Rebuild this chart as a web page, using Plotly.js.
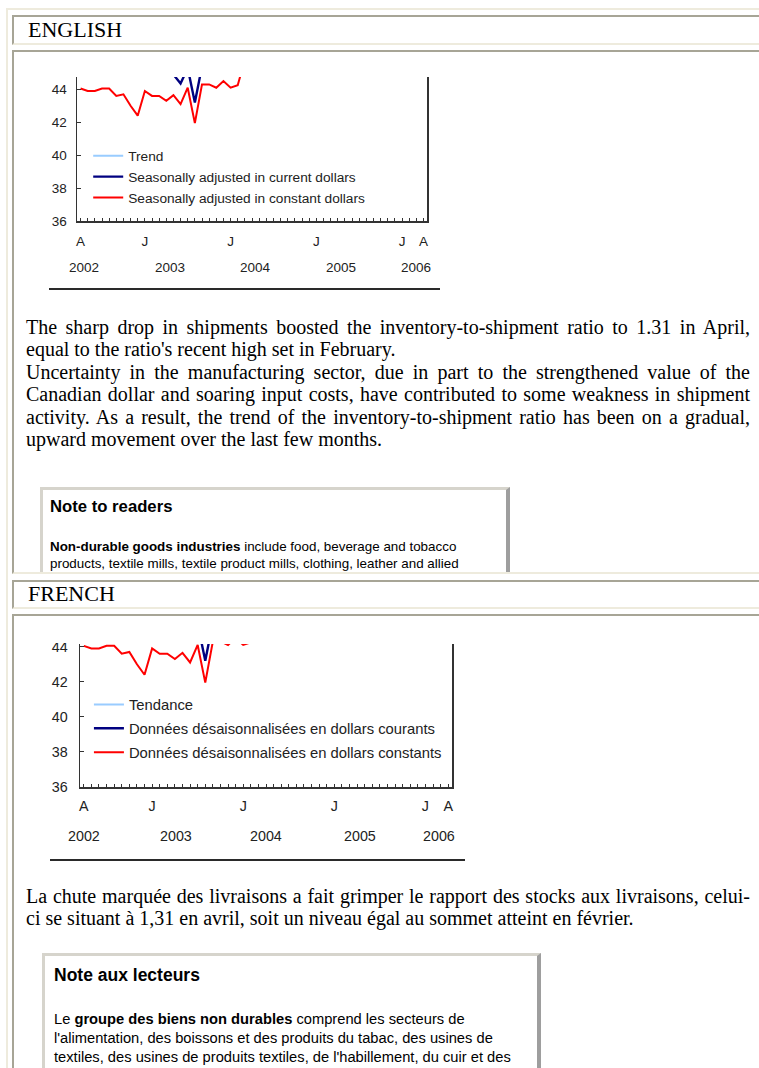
<!DOCTYPE html>
<html>
<head>
<meta charset="utf-8">
<script src="https://cdn.plot.ly/plotly-3.0.1.min.js"></script>
<style>
  html, body { margin:0; padding:0; }
  body { width:759px; height:1068px; overflow:hidden; background:#fff; position:relative;
         font-family:"Liberation Serif","Times New Roman",serif; color:#000; }
  .ov { position:absolute; left:6px; top:8px; width:2px; height:1100px; background:#EEEBDD; }
  .oh { position:absolute; left:6px; top:8px; width:900px; height:2px; background:#EEEBDD; }
  .cell { position:absolute; left:12px; width:900px; overflow:hidden;
          border-top:2px solid #A7A596; border-left:2px solid #A7A596; border-bottom:2px solid #EEEBDD; }
  .hdr { position:absolute; left:14px; font-size:22px; line-height:22px; white-space:nowrap; }
  .abs { position:absolute; }
  .rule { position:absolute; height:2px; background:#2a2a2a; }
  .para { position:absolute; font-size:20px; line-height:22.6px; width:724px; }
  .para div { white-space:nowrap; }
  .para .j { text-align:justify; text-align-last:justify; white-space:normal; }
  .note { position:absolute; background:#fff; box-sizing:border-box; height:300px;
          border-top:3px solid #D6D4CC; border-left:3px solid #D6D4CC;
          border-right:4px solid #9E9E9E; border-bottom:4px solid #9E9E9E;
          font-family:Arial,"Liberation Sans",sans-serif; color:#000; }
  .note div { white-space:nowrap; }
</style>
</head>
<body>
<div class="ov"></div>
<div class="oh"></div>

<!-- ENGLISH header -->
<div class="cell" style="top:15px;height:26px;">
  <div class="hdr" style="top:1.6px;">ENGLISH</div>
</div>

<!-- English content -->
<div class="cell" style="top:50px;height:520px;">
  <div id="chartEn" class="abs" style="left:0;top:15px;"></div>
  <div class="rule" style="left:35px;top:236px;width:391px;"></div>
  <div class="para" style="left:12px;top:263.5px;">
    <div class="j">The sharp drop in shipments boosted the inventory-to-shipment ratio to 1.31 in April,</div>
    <div>equal to the ratio's recent high set in February.</div>
    <div class="j">Uncertainty in the manufacturing sector, due in part to the strengthened value of the</div>
    <div class="j">Canadian dollar and soaring input costs, have contributed to some weakness in shipment</div>
    <div class="j">activity. As a result, the trend of the inventory-to-shipment ratio has been on a gradual,</div>
    <div>upward movement over the last few months.</div>
  </div>
  <div class="note" style="left:26px;top:435px;width:470px;padding-left:7px;">
    <div style="margin-top:7.2px;font-size:16.7px;line-height:20px;font-weight:bold;">Note to readers</div>
    <div style="margin-top:20.5px;font-size:13.4px;line-height:17px;"><b>Non-durable goods industries</b> include food, beverage and tobacco<br>products, textile mills, textile product mills, clothing, leather and allied</div>
  </div>
</div>

<!-- FRENCH header -->
<div class="cell" style="top:580px;height:25px;">
  <div class="hdr" style="top:0.6px;">FRENCH</div>
</div>

<!-- French content -->
<div class="cell" style="top:614px;height:500px;">
  <div class="abs" style="left:0;top:27px;width:520px;height:230px;overflow:hidden;">
    <div id="chartFr" class="abs" style="left:0;top:-19px;"></div>
  </div>
  <div class="rule" style="left:36px;top:243px;width:415px;"></div>
  <div class="para" style="left:12px;top:268.5px;">
    <div class="j">La chute marquée des livraisons a fait grimper le rapport des stocks aux livraisons, celui-</div>
    <div>ci se situant à 1,31 en avril, soit un niveau égal au sommet atteint en février.</div>
  </div>
  <div class="note" style="left:28px;top:337px;width:499px;padding-left:9px;">
    <div style="margin-top:8.7px;font-size:17.5px;line-height:21px;font-weight:bold;">Note aux lecteurs</div>
    <div style="margin-top:24.7px;font-size:14.7px;line-height:19px;">Le <b>groupe des biens non durables</b> comprend les secteurs de<br>l'alimentation, des boissons et des produits du tabac, des usines de<br>textiles, des usines de produits textiles, de l'habillement, du cuir et des</div>
  </div>
</div>

<script>
// ---------- DATA ----------
const months = ['Apr-02','May-02','Jun-02','Jul-02','Aug-02','Sep-02','Oct-02','Nov-02','Dec-02',
  'Jan-03','Feb-03','Mar-03','Apr-03','May-03','Jun-03','Jul-03','Aug-03','Sep-03','Oct-03','Nov-03','Dec-03',
  'Jan-04','Feb-04','Mar-04','Apr-04','May-04','Jun-04','Jul-04','Aug-04','Sep-04','Oct-04','Nov-04','Dec-04',
  'Jan-05','Feb-05','Mar-05','Apr-05','May-05','Jun-05','Jul-05','Aug-05','Sep-05','Oct-05','Nov-05','Dec-05',
  'Jan-06','Feb-06','Mar-06','Apr-06'];

const trend = [45.8,45.8,45.7,45.7,45.6,45.6,45.5,45.5,45.5,45.5,
  45.5,45.5,45.4,45.4,45.4,45.5,45.6,45.7,45.8,46.0,
  46.2,46.4,46.7,46.9,47.1,47.3,47.5,47.7,47.9,48.1,
  48.3,48.4,48.6,48.7,48.9,49.0,49.1,49.2,49.3,49.4,
  49.5,49.5,49.6,49.6,49.6,49.6,49.5,49.4,49.3];

const currentDollars = [45.7,45.6,45.6,45.9,45.9,45.5,45.6,45.1,45.0,45.7,
  45.5,45.6,45.2,44.9,44.35,45.3,43.2,45.4,45.5,45.4,
  45.9,45.6,45.8,47.2,47.0,47.5,47.9,47.6,48.1,48.5,
  48.2,48.6,49.0,48.7,49.1,49.4,49.0,49.5,49.1,49.6,
  49.3,49.7,49.3,49.7,49.4,49.8,49.5,49.2,48.8];

const constantDollars = [44.05,43.9,43.9,44.05,44.05,43.6,43.7,43.0,42.4,43.9,
  43.6,43.6,43.3,43.65,43.1,44.1,41.95,44.3,44.3,44.1,
  44.5,44.1,44.25,45.8,45.5,45.9,46.2,45.9,46.3,46.6,
  46.2,46.5,46.8,46.4,46.7,46.9,46.5,46.8,46.3,46.6,
  46.2,46.5,46.0,46.3,45.9,46.2,45.8,45.5,45.2];

const yTicks = [36, 38, 40, 42, 44];
const tickMonths = ['Apr-02','Jan-03','Jan-04','Jan-05','Jan-06','Apr-06'];
const tickLetters = ['A','J','J','J','J','A'];
const years = ['2002','2003','2004','2005','2006'];

const namesEn = ['Trend','Seasonally adjusted in current dollars','Seasonally adjusted in constant dollars'];
const namesFr = ['Tendance','Données désaisonnalisées en dollars courants','Données désaisonnalisées en dollars constants'];

// ---------- CHART BUILDER ----------
function buildChart(id, names, st) {
  const ticktext = months.map(m => { const k = tickMonths.indexOf(m); return k >= 0 ? tickLetters[k] : ''; });
  const series = [trend, currentDollars, constantDollars];
  const colors = ['#99CCFF', '#000080', '#FF0000'];
  const widths = [2, 2.4, 2];
  const traces = series.map((s, i) => ({
    type: 'scatter', mode: 'lines', x: months, y: s, name: names[i],
    legendgroup: 'g' + i,
    line: { color: colors[i], width: widths[i] }, hoverinfo: 'skip'
  }));
  const ann = years.map((y, i) => ({
    text: y, x: st.yearPos[i], xref: 'x', y: 0, yref: 'paper', yanchor: 'middle',
    yshift: -st.yearDy, showarrow: false, font: { size: st.tick, color: '#222' }
  }));
  const layout = {
    width: st.w, height: st.h,
    margin: { l: st.l, r: st.r, t: st.t, b: st.b },
    paper_bgcolor: 'rgba(0,0,0,0)', plot_bgcolor: 'rgba(0,0,0,0)',
    font: { family: 'Arial, "Liberation Sans", sans-serif', size: st.tick, color: '#222' },
    showlegend: true,
    legend: { x: st.lx, y: st.ly, xanchor: 'left', yanchor: 'top', bgcolor: 'rgba(0,0,0,0)',
              borderwidth: 0, traceorder: 'grouped', tracegroupgap: st.gap,
              font: { size: st.leg, color: '#222' } },
    xaxis: { type: 'category', range: [-0.5, months.length - 0.5], tickmode: 'array',
             tickvals: months, ticktext: ticktext, ticks: 'inside', ticklen: 3, tickwidth: 1,
             tickcolor: '#333', showline: true, linecolor: '#333', linewidth: 1.5,
             showgrid: false, zeroline: false, ticklabelstandoff: st.xsd, fixedrange: true },
    yaxis: { range: [36, st.ymax], tickmode: 'array', tickvals: yTicks, ticks: 'inside', ticklen: 4,
             tickcolor: '#333', showline: true, mirror: true, linecolor: '#333', linewidth: 1.5,
             showgrid: false, zeroline: false, ticklabelstandoff: st.ysd, fixedrange: true },
    annotations: ann
  };
  Plotly.newPlot(id, traces, layout, { staticPlot: true, displayModeBar: false });
}

buildChart('chartEn', namesEn, {
  w: 453, h: 214, l: 63, r: 40, t: 10, b: 60, ymax: 44.75,
  tick: 13.5, leg: 13.7, gap: 0, lx: 0.032, ly: 0.56, xsd: 7, ysd: 6, yearDy: 46,
  yearPos: [0.5, 12.5, 24.5, 36.4, 47]
});
buildChart('chartFr', namesFr, {
  w: 478, h: 233, l: 66, r: 40, t: 20, b: 70, ymax: 44.154,
  tick: 14.3, leg: 14.8, gap: 1.6, lx: 0.024, ly: 0.69, xsd: 5, ysd: 8, yearDy: 49,
  yearPos: [0.05, 12.2, 24.0, 36.4, 46.8]
});
</script>
</body>
</html>
